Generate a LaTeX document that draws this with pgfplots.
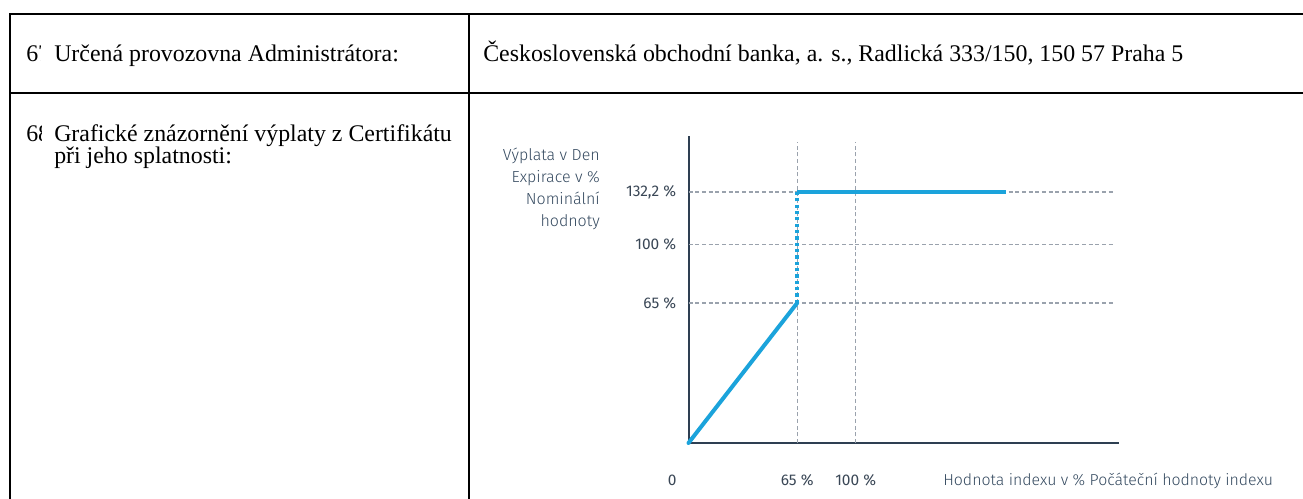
\documentclass[border=0pt]{standalone}
\usepackage{fontspec}
\setmainfont{Liberation Serif}
\newfontfamily\chartfont{Fira Sans}[UprightFont=* Light]
\newfontfamily\tickfont{Fira Sans}
\usepackage{pgfplots}
\pgfplotsset{compat=1.18}
\definecolor{payblue}{HTML}{1BA3DB}
\definecolor{axisc}{HTML}{2E3F52}
\definecolor{titlec}{HTML}{34495F}
\definecolor{tickc}{HTML}{3A4756}
\definecolor{gridc}{HTML}{9AA2AD}
\begin{document}
\begin{tikzpicture}
\begin{scope}[x=0.75pt,y=0.75pt]
\useasboundingbox (0,0) rectangle (1303,499);
% table rules
\draw[line width=1.5pt] (9.25,485) -- (1303,485);
\draw[line width=1.5pt] (9.25,406) -- (1303,406);
\draw[line width=1.5pt] (10,485.75) -- (10,0);
\draw[line width=1.5pt] (469,485.75) -- (469,0);
% row 1
\begin{scope}
\clip (20,420) rectangle (40.5,470);
\node[anchor=base west,inner sep=0,font=\fontsize{17.9}{20}\selectfont] at (26,437) {67};
\end{scope}
\node[anchor=base west,inner sep=0,font=\fontsize{17.9}{20}\selectfont] at (54,437) {Určená provozovna Administrátora:};
\node[anchor=base west,inner sep=0,font=\fontsize{17.9}{20}\selectfont] at (483,437) {Československá obchodní banka, a. s., Radlická 333/150, 150 57 Praha 5};
% row 2
\begin{scope}
\clip (20,340) rectangle (41.5,380);
\node[anchor=base west,inner sep=0,font=\fontsize{17.9}{20}\selectfont] at (26,357) {68};
\end{scope}
\node[anchor=base west,inner sep=0,font=\fontsize{17.9}{20}\selectfont] at (54,357) {Grafické znázornění výplaty z Certifikátu};
\node[anchor=base west,inner sep=0,font=\fontsize{17.9}{20}\selectfont] at (54,335) {při jeho splatnosti:};
% chart titles
\node[anchor=base east,align=right,inner sep=0,text=titlec,font=\chartfont\fontsize{12}{16.5}\selectfont] at (600,272) {Výplata v Den\\Expirace v \%\\Nominální\\hodnoty};
\node[anchor=base west,inner sep=0,text=titlec,font=\chartfont\fontsize{11.9}{14}\selectfont] at (943,13.5) {Hodnota indexu v \% Počáteční hodnoty indexu};
\end{scope}
\begin{axis}[
  at={(516.375pt,42pt)}, anchor=south west,
  scale only axis, width=322.875pt, height=230.25pt,
  xmin=0, xmax=257.5, ymin=0, ymax=166.55,
  y coord trafo/.code={\pgfkeys{/pgf/fpu/output format=fixed}\pgfmathparse{(#1<=65)*(#1*2.15385)+(#1>65)*(#1<=100)*(140+(#1-65)*1.67143)+(#1>100)*(198.5+(#1-100)*1.63043)}},
  axis lines=left,
  axis line style={-, line width=1.5pt, color=axisc},
  every outer x axis line/.append style={-},
  every outer y axis line/.append style={-},
  major tick length=0pt,
  xtick={0,65,100}, ytick={65,100,132.2},
  xticklabels={{\makebox[0pt][r]{0\hspace{9pt}}},{65 \%},{100 \%}},
  yticklabels={{65 \%},{100 \%},{132,2 \%}},
  xticklabel style={anchor=base, inner sep=0pt, yshift=-32pt, text=tickc, font=\tickfont\fontsize{11.6}{14}\selectfont},
  yticklabel style={anchor=east, inner sep=0pt, xshift=-9pt, text=tickc, font=\tickfont\fontsize{11.6}{14}\selectfont},
  clip=false,
]
\draw[gridc, line width=1pt, dash pattern=on 3pt off 2pt] (axis cs:0,65) -- (axis cs:254,65);
\draw[gridc, line width=1pt, dash pattern=on 3pt off 2pt] (axis cs:0,100) -- (axis cs:254,100);
\draw[gridc, line width=1pt, dash pattern=on 3pt off 2pt] (axis cs:0,132.2) -- (axis cs:254,132.2);
\draw[gridc, line width=1pt, dash pattern=on 3pt off 2pt] (axis cs:65,0) -- (axis cs:65,163);
\draw[gridc, line width=1pt, dash pattern=on 3pt off 2pt] (axis cs:100,0) -- (axis cs:100,163);
\addplot[payblue, line width=3pt, line cap=round] coordinates {(0,0) (65,65)};
\addplot[payblue, line width=3pt] coordinates {(65,132.2) (190,132.2)};
\addplot[payblue, line width=2.8pt, line cap=butt, dash pattern=on 2.4pt off 2.36pt] coordinates {(65,65) (65,132.2)};
\end{axis}
\end{tikzpicture}
\end{document}
